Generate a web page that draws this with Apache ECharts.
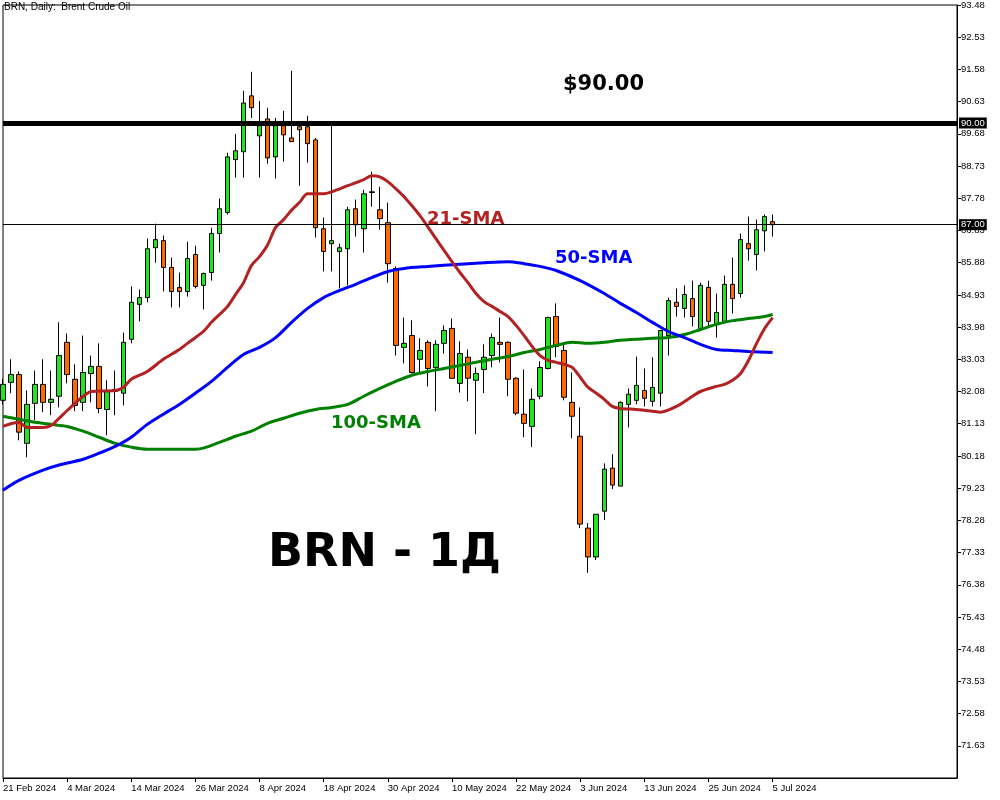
<!DOCTYPE html>
<html><head><meta charset="utf-8">
<script src="https://cdn.jsdelivr.net/npm/echarts@6/dist/echarts.min.js"></script>
<style>html,body{margin:0;padding:0;background:#fff}#c{width:1000px;height:800px}</style>
</head><body><div id="c"></div>
<script>
const dates = ['21 Feb 2024','22 Feb 2024','23 Feb 2024','26 Feb 2024','27 Feb 2024','28 Feb 2024','29 Feb 2024',
'1 Mar 2024','4 Mar 2024','5 Mar 2024','6 Mar 2024','7 Mar 2024','8 Mar 2024','11 Mar 2024','12 Mar 2024','13 Mar 2024','14 Mar 2024','15 Mar 2024','18 Mar 2024','19 Mar 2024','20 Mar 2024','21 Mar 2024','22 Mar 2024','25 Mar 2024','26 Mar 2024','27 Mar 2024','28 Mar 2024',
'1 Apr 2024','2 Apr 2024','3 Apr 2024','4 Apr 2024','5 Apr 2024','8 Apr 2024','9 Apr 2024','10 Apr 2024','11 Apr 2024','12 Apr 2024','15 Apr 2024','16 Apr 2024','17 Apr 2024','18 Apr 2024','19 Apr 2024','22 Apr 2024','23 Apr 2024','24 Apr 2024','25 Apr 2024','26 Apr 2024','29 Apr 2024','30 Apr 2024',
'1 May 2024','2 May 2024','3 May 2024','6 May 2024','7 May 2024','8 May 2024','9 May 2024','10 May 2024','13 May 2024','14 May 2024','15 May 2024','16 May 2024','17 May 2024','20 May 2024','21 May 2024','22 May 2024','23 May 2024','24 May 2024','27 May 2024','28 May 2024','29 May 2024','30 May 2024','31 May 2024',
'3 Jun 2024','4 Jun 2024','5 Jun 2024','6 Jun 2024','7 Jun 2024','10 Jun 2024','11 Jun 2024','12 Jun 2024','13 Jun 2024','14 Jun 2024','17 Jun 2024','18 Jun 2024','19 Jun 2024','20 Jun 2024','21 Jun 2024','24 Jun 2024','25 Jun 2024','26 Jun 2024','27 Jun 2024','28 Jun 2024',
'1 Jul 2024','2 Jul 2024','3 Jul 2024','4 Jul 2024','5 Jul 2024'];

const open = [81.82,82.35,82.58,80.55,81.73,82.29,81.76,81.94,83.53,82.44,81.76,82.61,82.82,81.55,82.08,82.03,83.62,84.65,84.85,86.32,
86.53,85.74,85.15,85.03,86.12,85.21,85.59,86.74,87.36,88.92,89.15,90.80,89.62,90.12,89.00,89.92,89.56,89.89,89.89,89.50,
86.88,86.44,86.21,86.29,87.47,86.88,87.97,87.44,87.06,85.71,83.38,83.73,83.03,83.53,82.79,83.50,83.94,82.32,83.09,82.41,
82.73,83.14,83.53,83.53,82.47,81.41,81.05,81.94,82.76,84.29,83.29,81.76,80.76,78.05,77.20,78.55,79.82,79.29,81.70,81.82,
82.11,81.79,82.03,83.73,84.71,84.53,84.82,83.94,85.15,84.06,84.15,85.24,84.97,86.44,86.12,86.82,87.09];
const high = [82.45,83.03,82.67,82.11,82.70,83.03,82.70,84.12,83.79,82.88,83.73,83.14,83.50,82.41,82.70,83.82,85.18,85.09,86.59,87.03,
86.68,86.03,85.59,86.50,86.38,85.59,86.91,87.77,89.12,89.68,90.95,91.51,90.65,90.45,90.15,90.36,91.54,90.06,90.21,89.56,
87.21,89.92,86.44,87.53,87.74,88.03,88.56,88.12,87.65,85.77,84.26,84.18,83.65,83.59,83.59,84.03,84.23,83.56,83.32,82.79,
83.47,83.79,84.26,83.56,82.50,82.73,82.17,82.97,84.29,84.68,83.53,82.64,81.61,78.20,78.46,79.96,80.23,81.79,82.17,83.11,
82.76,83.09,83.88,84.85,85.12,85.21,85.35,85.29,85.35,84.97,85.50,86.03,86.74,87.24,87.15,87.30,87.30];
const low = [81.70,82.03,80.64,80.14,81.23,81.47,81.38,81.61,82.32,81.50,81.50,81.76,81.44,80.79,81.38,81.67,83.50,84.15,84.71,85.88,
85.03,84.56,84.56,84.88,85.12,84.50,85.35,86.18,87.30,88.39,88.39,90.15,88.39,88.80,88.36,88.86,89.45,88.15,88.83,86.62,
85.62,85.62,85.12,85.21,86.65,86.18,87.53,86.85,85.29,83.14,82.91,82.61,82.64,82.23,81.50,83.20,82.47,82.05,81.79,80.82,
82.03,82.79,82.94,81.94,81.38,80.73,80.44,81.85,82.73,83.09,81.82,80.70,78.05,76.73,77.11,78.29,79.20,79.29,81.02,81.70,
81.64,81.64,81.64,83.14,84.29,84.26,84.00,83.88,84.00,83.67,84.15,84.38,84.85,85.94,85.65,86.21,86.65];
const close = [82.29,82.58,80.88,81.70,82.29,81.76,81.85,83.14,82.58,81.67,82.64,82.82,81.58,82.11,82.14,83.53,84.71,84.85,86.29,86.56,
85.74,85.03,85.03,86.00,85.18,85.56,86.74,87.47,89.00,89.18,90.59,90.45,89.92,88.97,89.92,89.65,89.45,89.80,89.39,86.91,
86.21,86.53,86.32,87.44,87.00,87.91,87.95,87.18,85.85,83.44,83.50,82.64,83.29,82.76,83.47,83.88,82.47,83.20,82.47,82.61,
83.09,83.67,83.47,82.44,81.44,81.14,81.85,82.79,84.26,83.41,81.91,81.35,78.17,77.20,78.46,79.79,79.32,81.76,82.00,82.26,
81.88,82.20,83.88,84.76,84.59,84.94,84.29,85.21,84.15,84.41,85.24,84.82,86.56,86.29,86.85,87.24,87.00];

// [candle index, SMA value]
const sma21 = [[0,81.05],[2,81.17],[3,81.02],[5,81.02],[6,81.08],[7,81.29],[8,81.52],[10,81.94],[11,82.08],[14,82.11],[15,82.20],[16,82.44],[18,82.67],[20,83.03],[22,83.32],[23,83.50],[25,83.85],[26,84.12],[28,84.59],[29,84.94],[30,85.29],[31,85.80],[32,86.06],[33,86.40],[34,86.92],[35,87.15],[36,87.43],[37,87.66],[38,87.91],[40,87.91],[41,87.97],[43,88.15],[45,88.33],[46,88.44],[47,88.41],[48,88.27],[49,88.06],[50,87.83],[52,87.27],[54,86.59],[56,85.91],[57,85.59],[58,85.29],[59,84.97],[60,84.73],[61,84.59],[62,84.44],[63,84.29],[64,84.03],[65,83.73],[66,83.41],[67,83.14],[68,83.00],[69,82.94],[70,82.88],[71,82.79],[72,82.50],[73,82.20],[74,82.03],[75,81.85],[76,81.64],[77,81.58],[79,81.55],[81,81.50],[82,81.47],[84,81.64],[86,81.94],[87,82.08],[89,82.23],[90,82.29],[91,82.41],[92,82.61],[93,83.00],[94,83.50],[95,83.94],[96,84.26]];
const sma50 = [[0,79.17],[2,79.46],[5,79.76],[7,79.91],[10,80.08],[12,80.26],[14,80.46],[16,80.73],[18,81.11],[20,81.41],[22,81.70],[24,82.03],[26,82.38],[28,82.79],[30,83.17],[32,83.38],[34,83.67],[36,84.12],[38,84.53],[40,84.85],[42,85.06],[44,85.24],[46,85.44],[48,85.62],[50,85.71],[53,85.77],[56,85.82],[60,85.88],[63,85.91],[65,85.85],[67,85.77],[69,85.65],[72,85.35],[75,84.97],[77,84.68],[79,84.41],[81,84.12],[83,83.85],[85,83.67],[87,83.47],[89,83.32],[91,83.29],[93,83.26],[96,83.23]];
const sma100 = [[0,81.35],[2,81.26],[4,81.17],[6,81.11],[8,81.05],[10,80.91],[12,80.73],[14,80.55],[16,80.44],[18,80.38],[20,80.38],[24,80.38],[25,80.41],[27,80.58],[29,80.76],[31,80.91],[33,81.14],[35,81.29],[37,81.44],[39,81.55],[41,81.61],[43,81.70],[45,81.94],[47,82.17],[49,82.38],[51,82.56],[53,82.67],[55,82.76],[57,82.85],[59,82.94],[61,83.03],[63,83.11],[65,83.23],[67,83.32],[69,83.44],[71,83.53],[73,83.50],[75,83.53],[77,83.59],[79,83.62],[81,83.65],[83,83.67],[85,83.76],[87,83.91],[89,84.06],[91,84.17],[93,84.23],[95,84.29],[96,84.35]];

const levels = [{value: 90.00, width: 5}, {value: 87.00, width: 1}];
const yMin = 70.68, yMax = 93.48, yStep = 0.95;
const labelEvery = 8;

const padCount = 23;
const categories = dates.concat(Array.from({length: padCount}, (_, i) => 'pad' + i));
const candles = dates.map((_, i) => [open[i], close[i], low[i], high[i]]);
const showIdx = (idx) => idx % labelEvery === 0 && idx < dates.length;

const chart = echarts.init(document.getElementById('c'));
chart.setOption({
  animation: false,
  backgroundColor: '#fff',
  textStyle: {fontFamily: 'Liberation Sans'},
  grid: {left: 2, top: 4, width: 955, height: 774, show: true, borderColor: '#000', borderWidth: 1, backgroundColor: '#fff'},
  xAxis: {
    type: 'category', data: categories, boundaryGap: false,
    axisLine: {show: true, lineStyle: {color: '#000', width: 1}},
    axisTick: {show: true, length: 4, interval: showIdx, lineStyle: {color: '#000'}},
    axisLabel: {interval: showIdx, align: 'left', color: '#000', fontSize: 9.5, margin: 5, fontFamily: 'Liberation Sans'},
    splitLine: {show: false}
  },
  yAxis: {
    type: 'value', position: 'right', min: yMin, max: yMax, interval: yStep,
    axisLine: {show: true, lineStyle: {color: '#000', width: 1}},
    axisTick: {show: true, length: 4, lineStyle: {color: '#000'}},
    axisLabel: {color: '#000', fontSize: 9.5, margin: 4, showMinLabel: false, fontFamily: 'Liberation Sans',
      formatter: v => v.toFixed(2)},
    splitLine: {show: false}
  },
  series: [
    {
      type: 'candlestick', data: candles, barWidth: 5, clip: true,
      itemStyle: {color: '#20e620', color0: '#ff6a00', borderColor: '#000', borderColor0: '#000', borderColorDoji: '#000', borderWidth: 1},
      emphasis: {disabled: true}
    },
    {type: 'line', data: sma100, symbol: 'none', smooth: 0.3, lineStyle: {color: '#008000', width: 3}, silent: true},
    {type: 'line', data: sma50, symbol: 'none', smooth: 0.3, lineStyle: {color: '#0000ff', width: 3}, silent: true},
    {type: 'line', data: sma21, symbol: 'none', smooth: 0.3, lineStyle: {color: '#b22222', width: 3}, silent: true},
    {
      type: 'line', data: [], silent: true,
      markLine: {
        silent: true, symbol: 'none', animation: false,
        data: levels.map(l => ({yAxis: l.value, lineStyle: {color: '#000', width: l.width, type: 'solid'}})),
        label: {show: true, position: 'end', distance: 2, formatter: p => p.value.toFixed(2),
          color: '#fff', backgroundColor: '#000', padding: [1, 2, 0, 2], fontSize: 9.5, fontFamily: 'Liberation Sans'}
      }
    }
  ],
  graphic: [
    {type: 'text', x: 4, y: 7, style: {text: 'BRN, Daily:  Brent Crude Oil', font: '10px "Liberation Sans"', fill: '#000', verticalAlign: 'middle'}},
    {type: 'text', x: 563, y: 85, style: {text: '$90.00', font: 'bold 21px "DejaVu Sans"', fill: '#000', verticalAlign: 'middle'}},
    {type: 'text', x: 427, y: 219, style: {text: '21-SMA', font: 'bold 18px "DejaVu Sans"', fill: '#b22222', verticalAlign: 'middle'}},
    {type: 'text', x: 555, y: 258.5, style: {text: '50-SMA', font: 'bold 18px "DejaVu Sans"', fill: '#0000ff', verticalAlign: 'middle'}},
    {type: 'text', x: 331, y: 423, style: {text: '100-SMA', font: 'bold 18px "DejaVu Sans"', fill: '#008000', verticalAlign: 'middle'}},
    {type: 'text', x: 268, y: 554, style: {text: 'BRN - 1Д', font: 'bold 46px "DejaVu Sans"', fill: '#000', verticalAlign: 'middle'}}
  ]
});
</script>
</body></html>
